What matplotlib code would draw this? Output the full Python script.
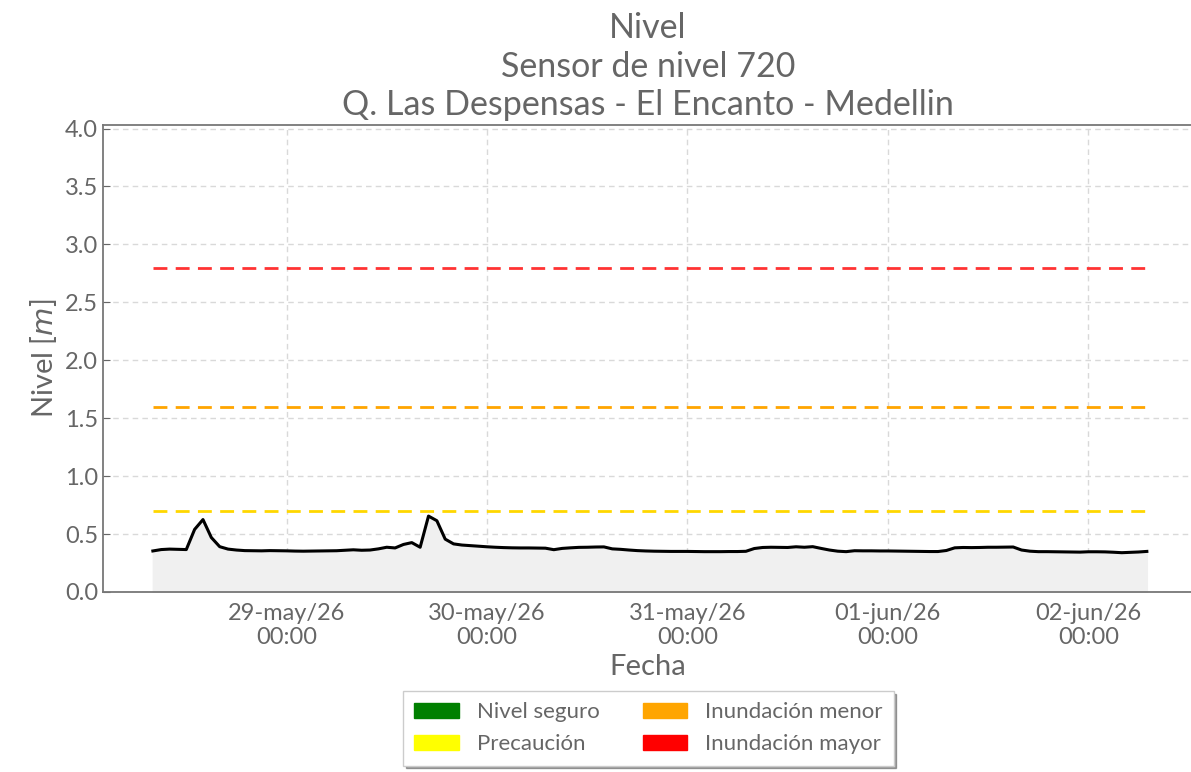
import numpy as np
import pandas as pd
import matplotlib
matplotlib.use("Agg")
import matplotlib.pyplot as plt
import matplotlib.dates as mdates
from matplotlib.patches import Patch
from matplotlib.ticker import FuncFormatter

# hourly level readings, sensor 720, starting 28-may-2026 08:00
start = "2026-05-28 08:00"
nivel = [
    0.354, 0.366, 0.370, 0.368, 0.366, 0.540, 0.625, 0.470, 0.391, 0.370,
    0.362, 0.357, 0.356, 0.355, 0.357, 0.356, 0.355, 0.353, 0.352, 0.353,
    0.354, 0.355, 0.356, 0.360, 0.364, 0.360, 0.362, 0.372, 0.386, 0.380,
    0.410, 0.426, 0.386, 0.655, 0.615, 0.456, 0.415, 0.405, 0.400, 0.395,
    0.390, 0.386, 0.383, 0.381, 0.380, 0.380, 0.379, 0.378, 0.365, 0.376,
    0.381, 0.385, 0.386, 0.388, 0.389, 0.372, 0.368, 0.362, 0.357, 0.354,
    0.352, 0.351, 0.350, 0.350, 0.350, 0.349, 0.348, 0.348, 0.348, 0.349,
    0.349, 0.351, 0.375, 0.384, 0.386, 0.385, 0.384, 0.390, 0.386, 0.391,
    0.376, 0.362, 0.352, 0.348, 0.356, 0.355, 0.355, 0.354, 0.354, 0.353,
    0.352, 0.351, 0.350, 0.349, 0.349, 0.358, 0.381, 0.384, 0.383, 0.384,
    0.386, 0.386, 0.387, 0.388, 0.362, 0.352, 0.348, 0.348, 0.347, 0.346,
    0.345, 0.344, 0.347, 0.347, 0.346, 0.343, 0.339, 0.342, 0.345, 0.350,
]
fechas = pd.date_range(start, periods=len(nivel), freq="h")

# alert thresholds
umbrales = [0.7, 1.6, 2.8]
colores_umbral = ["#FFD700", "#FFA500", "#FF3333"]

leyenda_labels = ["Nivel seguro", "Precaución", "Inundación menor", "Inundación mayor"]
leyenda_colores = ["green", "yellow", "orange", "red"]

meses = {5: "may", 6: "jun"}

def fmt_fecha(x, pos=None):
    d = mdates.num2date(x)
    return "%02d-%s/%s\n%02d:%02d" % (d.day, meses.get(d.month, ""), d.strftime("%y"), d.hour, d.minute)

plt.rcParams["font.family"] = ["Lato", "DejaVu Sans"]
gris = "#666666"

fig = plt.figure(figsize=(11.91, 7.72), dpi=100)
ax = fig.add_axes([0.0865, 0.2332, 0.915, 0.6048])

ax.fill_between(fechas, 0, nivel, color="#f0f0f0", zorder=1)
ax.plot(fechas, nivel, color="black", lw=2.2, zorder=3)
for u, c in zip(umbrales, colores_umbral):
    ax.plot([fechas[0], fechas[-1]], [u, u], color=c, lw=2, ls=(0, (5, 3)), zorder=2)

ax.set_ylim(0, 4.03)
ax.set_xlim(pd.Timestamp("2026-05-28 02:02"), pd.Timestamp("2026-06-02 12:30"))
ax.xaxis.set_major_locator(mdates.DayLocator())
ax.xaxis.set_major_formatter(FuncFormatter(fmt_fecha))
ax.set_yticks(np.arange(0, 4.01, 0.5))
ax.yaxis.set_major_formatter(FuncFormatter(lambda v, p: "%.1f" % v))

ax.grid(True, color="#d9d9d9", ls=(0, (4, 3)), lw=1)
ax.set_axisbelow(True)
ax.tick_params(direction="in", colors=gris, labelsize=17, length=5)
ax.tick_params(axis="x", pad=8)
for s in ["left", "bottom", "top"]:
    ax.spines[s].set_color("#777777")
    ax.spines[s].set_linewidth(1.3)
ax.spines["right"].set_visible(False)

ax.set_xlabel("Fecha", fontsize=21, color=gris)
ax.set_ylabel("Nivel [$m$]", fontsize=21, color=gris)
ax.set_title("Nivel\nSensor de nivel 720\nQ. Las Despensas - El Encanto - Medellin",
             fontsize=24.5, color=gris, linespacing=1.25, pad=7)

handles = [Patch(facecolor=c, edgecolor=c) for c in leyenda_colores]
leg = fig.legend(handles, leyenda_labels, ncol=2, loc="lower center",
                 bbox_to_anchor=(0.5445, -0.006), fontsize=16, shadow=True,
                 fancybox=False, handlelength=2.0, handleheight=0.7,
                 handletextpad=0.8, columnspacing=1.95, labelspacing=0.55,
                 borderpad=0.5, labelcolor=gris, edgecolor="#cccccc")

fig.savefig("out.png", dpi=100)
